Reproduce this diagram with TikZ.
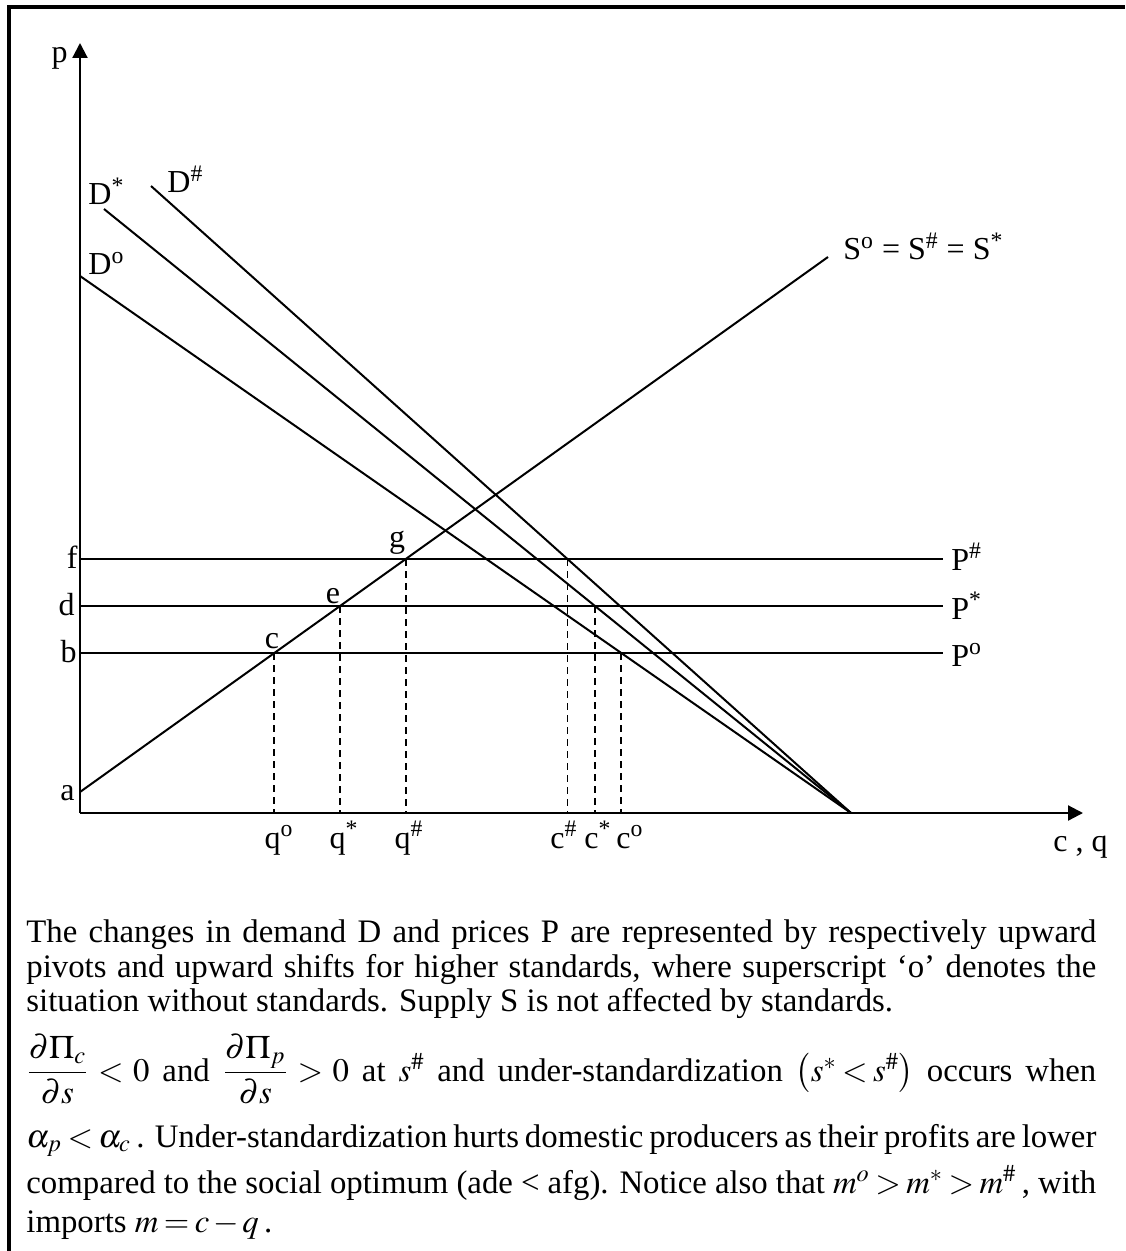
\documentclass[tikz,border=0pt]{standalone}
\usepackage{mathptmx}
\usepackage{fontspec}
\setmainfont{Liberation Serif}
\usetikzlibrary{arrows.meta}

\newcommand\capspacing{\thickmuskip=3mu plus 2mu\relax\medmuskip=2mu plus 1mu\relax}
\tikzset{
  curve/.style={line width=1pt},
  guide/.style={line width=0.9pt, dash pattern=on 3.5pt off 2.5pt},
  axis/.style={line width=1.1pt, -{Triangle[length=7.5pt,width=7.5pt]}},
  lbl/.style={font=\fontsize{16}{19}\selectfont, inner sep=0pt},
  txt/.style={font=\fontsize{16.4}{19}\selectfont\capspacing, inner sep=0pt, anchor=base west},
}
\newlength\textW
\setlength\textW{535pt}

\begin{document}
\begin{tikzpicture}[x=0.5pt, y=-0.5pt]
    \useasboundingbox (0,0) rectangle (1125,1251);
    % Frame, only top and left edges
    \draw[line width=2pt] (9,1251) -- (9,7) -- (1125,7);

    % Axes
    \coordinate (O) at (80,813);
    \coordinate (ptop) at (80,43);
    \coordinate (qend) at (1083,813);
    \draw[axis] (O) -- (ptop);
    \draw[axis] (O) -- (qend);
    \node[lbl, anchor=base east] (plab) at (68,63) {p};
    \node[lbl, anchor=base west] (cqlab) at (1053,851) {c , q};

    % Price lines
    \foreach \y/\n in {559/f, 606/d, 653/b} {
        \coordinate (\n) at (80,\y);
        \coordinate (R\n) at (943,\y);
        \draw[curve] (\n) -- (R\n);
    }
    \node[lbl, anchor=base east] (flab) at (78,568) {f};
    \node[lbl, anchor=base east] (dlab) at (75,615) {d};
    \node[lbl, anchor=base east] (blab) at (77,662) {b};
    \node[lbl, anchor=base west] (Ph) at (951,570) {P\textsuperscript{\#}};
    \node[lbl, anchor=base west] (Ps) at (951,619) {P\textsuperscript{*}};
    \node[lbl, anchor=base west] (Po) at (951,666) {P\textsuperscript{o}};

    % Supply
    \coordinate (a) at (80,792);
    \coordinate (Stop) at (828,257);
    \draw[curve] (a) -- (Stop);
    \node[lbl, anchor=base east] (alab) at (75,800) {a};
    \node[lbl, anchor=base west] (Slab) at (843,260)
        {S\textsuperscript{o} = S\textsuperscript{\#} = S\textsuperscript{*}};

    % Demand curves pivot on the q axis
    \coordinate (piv) at (851,813);
    \coordinate (Do) at (80,276);
    \coordinate (Ds) at (104,209);
    \coordinate (Dh) at (151,186);
    \draw[curve] (Do) -- (piv);
    \draw[curve] (Ds) -- (piv);
    \draw[curve] (Dh) -- (piv);
    \node[lbl, anchor=base west] (Dolab) at (88,275) {D\textsuperscript{o}};
    \node[lbl, anchor=base west] (Dslab) at (88,205) {D\textsuperscript{*}};
    \node[lbl, anchor=base west] (Dhlab) at (167,193) {D\textsuperscript{\#}};

    % Equilibrium points and dashed guides
    \coordinate (c) at (intersection of a--Stop and b--Rb);
    \coordinate (e) at (intersection of a--Stop and d--Rd);
    \coordinate (g) at (intersection of a--Stop and f--Rf);
    \coordinate (co) at (intersection of Do--piv and b--Rb);
    \coordinate (cs) at (intersection of Ds--piv and d--Rd);
    \coordinate (ch) at (intersection of Dh--piv and f--Rf);
    \foreach \p in {c, e, g, co, cs, ch}
        \draw[guide] (\p) -- (\p |- O);
    \node[lbl, anchor=base] (clab) at (272,648) {c};
    \node[lbl, anchor=base] (elab) at (333,603) {e};
    \node[lbl, anchor=base] (glab) at (397,547) {g};

    % Quantity labels
    \node[lbl, anchor=base] (qo) at (279,848) {q\textsuperscript{o}};
    \node[lbl, anchor=base] (qs) at (344,848) {q\textsuperscript{*}};
    \node[lbl, anchor=base] (qh) at (409,848) {q\textsuperscript{\#}};
    \node[lbl, anchor=base] (chlab) at (564,848) {c\textsuperscript{\#}};
    \node[lbl, anchor=base] (cslab) at (598,848) {c\textsuperscript{*}};
    \node[lbl, anchor=base] (colab) at (630,848) {c\textsuperscript{o}};

    % Caption
    \node[txt] (l1) at (26,942) {\hbox to \textW{The changes in demand D and prices P are represented by respectively upward}};
    \node[txt] (l2) at (26,977) {\hbox to \textW{pivots and upward shifts for higher standards, where superscript `o' denotes the}};
    \node[txt] (l3) at (26,1011) {situation without standards. Supply S is not affected by standards.};
    \node[txt] (l4) at (26,1081) {\hbox to \textW{$\displaystyle\frac{\partial\Pi_c}{\partial s}<0$ and $\displaystyle\frac{\partial\Pi_p}{\partial s}>0$ at $s^{\#}$ and under-standardization $\left(s^{*}<s^{\#}\right)$ occurs when}};
    \node[txt] (l5) at (26,1147) {\hbox to \textW{$\alpha_p<\alpha_c$\,. Under-standardization hurts domestic producers as their profits are lower}};
    \node[txt] (l6) at (26,1193) {\hbox to \textW{compared to the social optimum (ade < afg). Notice also that $m^{o}>m^{*}>m^{\#}$\,, with}};
    \node[txt] (l7) at (26,1232) {imports $m=c-q$\,.};
\end{tikzpicture}
\end{document}
